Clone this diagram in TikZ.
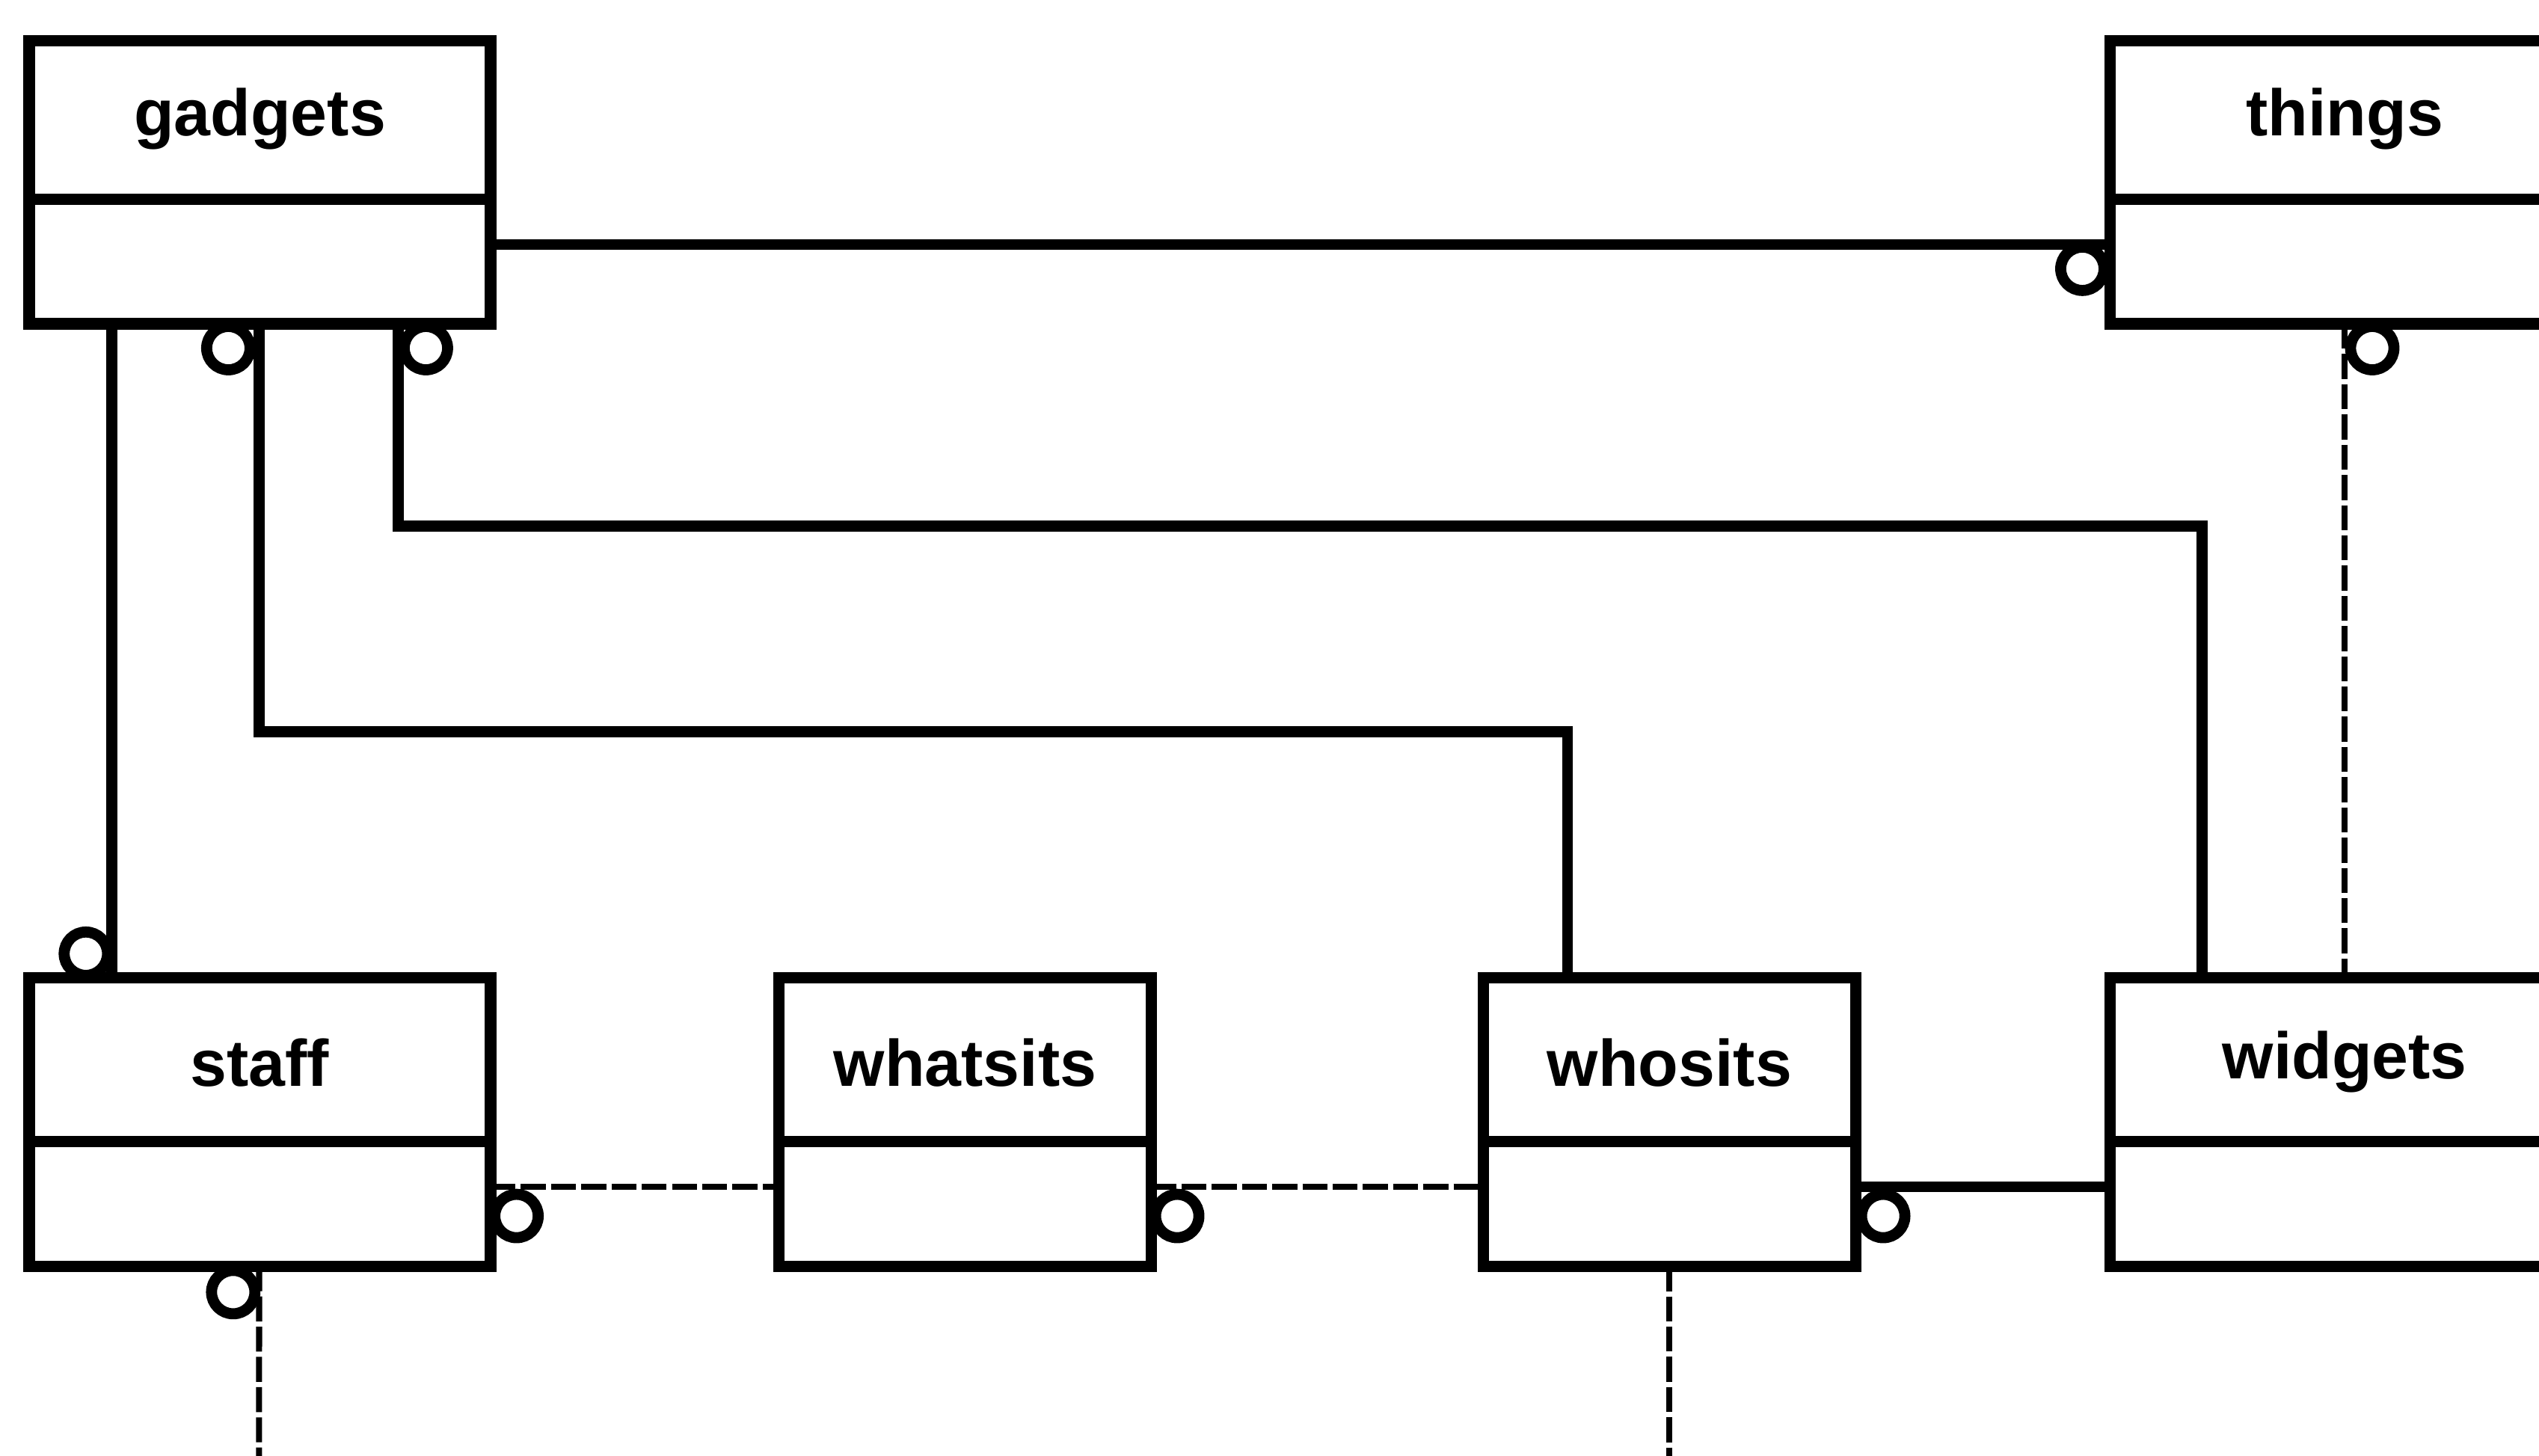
\documentclass[tikz,border=0pt]{standalone}
\usepackage{fontspec}
\setmainfont{Liberation Sans}
\usetikzlibrary{calc}
\begin{document}
\begin{tikzpicture}[x=0.02165cm,y=-0.02165cm,
  ent/.style={draw=black, line width=4.3pt, fill=white, rectangle, inner sep=0pt, outer sep=0pt},
  bigbox/.style={ent, minimum width=6.170cm},
  wbox/.style={ent, minimum width=6.279cm},
  smallbox/.style={ent, minimum width=4.980cm},
  tophgt/.style={minimum height=3.789cm},
  bothgt/.style={minimum height=3.854cm},
  divline/.style={draw=black, line width=4.3pt},
  title/.style={font=\bfseries\fontsize{25}{30}\selectfont, anchor=base, inner sep=0pt},
  solidc/.style={draw=black, line width=4.2pt},
  dashc/.style={draw=black, line width=2.3pt, dash pattern=on 9.5pt off 2pt},
  ring/.style={draw=black, line width=4.2pt, fill=white}
]
\useasboundingbox (0,0) rectangle (1568,899);
\clip (0,0) rectangle (1568,899);

% boxes
\node[bigbox, tophgt] (gadgets) at (160.5,112.5) {};
\node[wbox, tophgt] (things) at (1448,112.5) {};
\node[bigbox, bothgt] (staff) at (160.5,693) {};
\node[smallbox, bothgt] (whatsits) at (596,693) {};
\node[smallbox, bothgt] (whosits) at (1031,693) {};
\node[wbox, bothgt] (widgets) at (1448,693) {};

% dividers
\foreach \b in {gadgets,things}
  \draw[divline] ($(\b.north west)+(0,98)$) -- ($(\b.north east)+(0,98)$);
\foreach \b in {staff,whatsits,whosits,widgets}
  \draw[divline] ($(\b.north west)+(0,101)$) -- ($(\b.north east)+(0,101)$);

% titles
\node[title] (gadgets-t) at (160.5,84) {gadgets};
\node[title] (things-t) at (1448,84) {things};
\node[title] (staff-t) at (160.5,671) {staff};
\node[title] (whatsits-t) at (596,671) {whatsits};
\node[title] (whosits-t) at (1031,671) {whosits};
\node[title] (widgets-t) at (1448,666) {widgets};

% level coordinates
\coordinate (y151) at (0,151);
\coordinate (y733) at (0,733);
\coordinate (staffend) at (160,910);
\coordinate (whosend) at (1031,910);

% connectors
\draw[solidc] (gadgets.east |- y151) -- (things.west |- y151);
\draw[dashc] (things.south) -- (widgets.north);
\draw[solidc] ($(gadgets.south west)+(51,0)$) -- ($(staff.north west)+(51,0)$);
\draw[solidc] ($(gadgets.south west)+(142,0)$) -- ++(0,252) -| ($(whosits.north west)+(52,0)$);
\draw[solidc] ($(gadgets.south west)+(228,0)$) -- ++(0,125) -| ($(widgets.north west)+(57,0)$);
\draw[dashc] (staff.east |- y733) -- (whatsits.west |- y733);
\draw[dashc] (whatsits.east |- y733) -- (whosits.west |- y733);
\draw[solidc] (whosits.east |- y733) -- (widgets.west |- y733);
\draw[dashc] ($(staff.south west)+(142,0)$) -- (staffend);
\draw[dashc] (whosits.south) -- (whosend);

% optional-end circles
\draw[ring] ($(things.south west)+(-17,-34)$) circle[radius=0.29cm];
\draw[ring] ($(things.south west)+(162,15)$) circle[radius=0.29cm];
\draw[ring] ($(staff.north west)+(35,-15)$) circle[radius=0.29cm];
\draw[ring] ($(gadgets.south west)+(123,15)$) circle[radius=0.29cm];
\draw[ring] ($(gadgets.south west)+(245,15)$) circle[radius=0.29cm];
\draw[ring] ($(staff.north east)+(16,147)$) circle[radius=0.29cm];
\draw[ring] ($(whatsits.north east)+(16,147)$) circle[radius=0.29cm];
\draw[ring] ($(whosits.north east)+(17,147)$) circle[radius=0.29cm];
\draw[ring] ($(staff.south west)+(126,16)$) circle[radius=0.29cm];
\end{tikzpicture}
\end{document}
